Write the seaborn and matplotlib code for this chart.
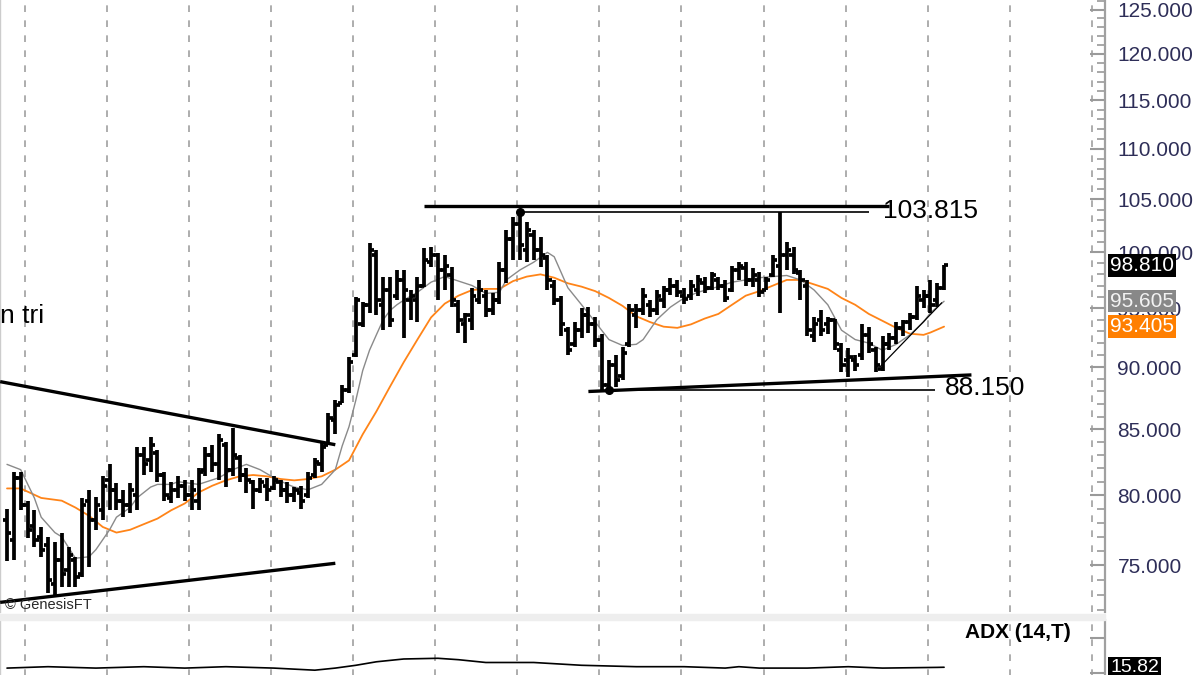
import matplotlib
matplotlib.use("Agg")
import numpy as np
import matplotlib.pyplot as plt
import matplotlib.ticker as mticker
import matplotlib.transforms as mtransforms
from matplotlib.patches import Rectangle
import seaborn as sns

# ── Data ────────────────────────────────────────────────────────────────
opens = [78.2, 76.8, 81.3, 79.3, 77.8, 77.0, 76.4, 73.7, 75.4, 74.7,
         75.4, 74.4, 79.6, 78.2, 78.9, 81.1, 80.4, 79.6, 79.3, 80.0,
         83.0, 82.6, 83.2, 81.5, 79.8, 80.4, 80.7, 80.0, 79.6, 81.9,
         83.0, 82.3, 83.8, 81.9, 82.8, 81.5, 81.0, 80.4, 80.7, 80.5,
         81.0, 80.4, 80.0, 80.2, 80.0, 81.5, 82.3, 83.8, 85.7, 87.1,
         88.1, 91.0, 93.6, 95.3, 99.8, 95.3, 96.6, 96.1, 97.5, 95.7,
         95.7, 97.0, 99.1, 99.8, 98.4, 97.9, 95.3, 93.6, 94.0, 95.7,
         96.1, 94.8, 95.7, 98.4, 101.2, 102.6, 100.2, 101.6, 100.2, 99.5,
         97.0, 95.7, 93.1, 91.9, 93.1, 94.4, 93.6, 92.3, 88.5, 90.2,
         89.3, 91.9, 94.4, 94.8, 95.3, 94.8, 95.7, 96.6, 97.0, 96.1,
         96.1, 96.6, 97.2, 96.8, 97.5, 97.0, 96.6, 98.4, 98.6, 97.5,
         97.5, 96.6, 97.9, 98.8, 99.8, 99.8, 98.1, 97.0, 92.6, 94.0,
         93.6, 94.0, 91.4, 90.6, 90.6, 91.0, 92.7, 91.4, 89.8, 91.9,
         92.4, 93.3, 93.8, 94.2, 95.7, 96.1, 95.7, 96.8]
highs = [79.0, 81.7, 81.7, 79.6, 78.9, 77.7, 77.0, 76.6, 77.3, 76.3,
         75.6, 79.8, 80.4, 79.9, 81.4, 82.3, 80.9, 80.4, 80.9, 83.6,
         83.6, 84.4, 83.4, 81.7, 81.0, 81.4, 81.1, 81.1, 82.0, 83.6,
         83.8, 84.6, 84.0, 85.1, 83.0, 82.0, 81.1, 81.3, 81.3, 81.4,
         81.1, 81.0, 80.6, 80.7, 81.7, 82.8, 84.0, 86.3, 87.3, 88.5,
         90.8, 96.0, 95.5, 100.9, 100.2, 97.8, 97.8, 98.4, 98.4, 96.6,
         97.8, 100.4, 100.5, 99.9, 99.8, 98.7, 95.7, 94.6, 96.8, 97.5,
         96.6, 96.3, 99.1, 102.1, 103.3, 103.815, 102.8, 102.1, 101.4, 99.8,
         97.5, 96.1, 93.4, 93.8, 95.0, 95.1, 94.2, 92.8, 90.6, 91.0,
         91.7, 95.4, 95.4, 96.8, 95.7, 96.6, 97.0, 97.7, 97.5, 96.8,
         97.5, 97.9, 97.8, 98.2, 97.8, 97.5, 98.8, 99.1, 99.1, 98.6,
         98.2, 97.8, 99.8, 103.8, 101.0, 100.5, 98.4, 97.5, 94.2, 94.8,
         94.2, 94.1, 92.0, 91.6, 91.0, 93.6, 93.4, 91.7, 92.6, 92.9,
         93.8, 94.0, 94.6, 97.0, 96.6, 97.5, 97.2, 98.81]
lows = [75.3, 75.4, 78.9, 76.9, 76.3, 75.6, 73.1, 73.0, 73.5, 73.5,
        73.5, 74.2, 74.9, 77.5, 78.2, 78.9, 78.9, 78.4, 78.7, 78.9,
        81.5, 81.7, 81.0, 79.6, 79.4, 79.8, 79.6, 78.9, 78.9, 81.4,
        81.7, 81.1, 80.6, 81.4, 81.0, 80.2, 79.0, 80.2, 79.6, 80.4,
        79.9, 79.4, 79.5, 79.0, 79.8, 81.3, 81.7, 83.8, 84.6, 87.1,
        87.9, 90.8, 93.4, 94.6, 94.4, 93.1, 93.4, 95.7, 92.4, 94.0,
        93.8, 96.9, 98.7, 95.7, 96.6, 95.1, 92.9, 92.0, 93.1, 95.4,
        94.2, 94.4, 95.4, 97.2, 99.3, 99.3, 99.1, 99.3, 98.7, 96.6,
        95.3, 92.6, 91.0, 91.7, 92.4, 92.9, 91.7, 88.1, 88.15, 88.4,
        88.9, 91.7, 93.3, 94.4, 94.2, 94.4, 95.0, 96.2, 96.0, 95.4,
        95.7, 96.1, 96.3, 96.6, 96.6, 95.5, 96.4, 97.5, 97.0, 96.9,
        96.0, 96.6, 97.8, 94.6, 98.4, 98.0, 95.7, 92.6, 92.1, 92.6,
        92.8, 91.4, 89.6, 89.2, 89.7, 90.6, 91.2, 89.6, 89.7, 91.4,
        91.9, 92.6, 93.1, 94.0, 95.0, 94.6, 95.1, 96.6]
closes = [77.3, 81.3, 79.3, 77.5, 76.8, 76.1, 74.0, 75.4, 74.4, 75.7,
          74.2, 79.3, 78.2, 79.3, 80.7, 80.4, 79.6, 79.3, 80.4, 83.0,
          82.3, 83.8, 81.5, 80.0, 80.4, 80.7, 80.0, 80.4, 81.7, 83.0,
          82.3, 84.2, 81.9, 83.0, 81.5, 81.1, 80.4, 81.0, 80.4, 81.1,
          80.4, 80.0, 80.4, 79.6, 81.3, 82.5, 83.6, 85.9, 86.9, 88.1,
          90.4, 95.7, 95.3, 100.2, 95.7, 96.6, 94.0, 97.5, 96.6, 96.1,
          97.0, 99.3, 99.8, 98.4, 98.8, 95.7, 94.0, 94.4, 96.1, 96.6,
          94.8, 95.7, 98.4, 101.2, 102.6, 100.7, 102.1, 100.2, 99.8, 97.5,
          95.7, 93.6, 91.4, 93.1, 94.4, 93.6, 92.3, 88.5, 90.2, 88.9,
          91.2, 94.8, 94.8, 96.1, 94.8, 96.1, 96.6, 97.0, 96.4, 95.8,
          97.0, 97.5, 96.8, 97.9, 97.0, 95.9, 98.4, 98.8, 97.5, 97.9,
          96.4, 97.5, 99.3, 99.8, 100.2, 98.4, 97.5, 93.1, 93.6, 93.1,
          94.0, 91.9, 90.2, 90.8, 90.2, 92.7, 91.9, 90.2, 91.9, 92.4,
          93.3, 93.8, 94.2, 96.1, 96.1, 95.3, 96.8, 98.81]

fast_ma_bars = [0, 2, 4, 5, 7, 8, 10, 12, 13, 15, 16, 18, 19, 21, 22, 24, 25, 28,
                31, 33, 35, 37, 39, 41, 42, 44, 46, 48, 49, 50, 51, 52, 53, 54,
                55, 56, 57, 58, 60, 62, 64, 66, 68, 70, 72, 73, 75, 77, 79, 80,
                82, 84, 86, 88, 90, 92, 93, 95, 97, 99, 101, 104, 106, 108, 110,
                112, 114, 116, 118, 120, 122, 124, 126, 128, 130, 132, 134, 135, 137]
fast_ma = [82.3, 81.9, 79.8, 78.4, 77.3, 77.0, 75.5, 75.6, 76.1, 77.5,
           78.4, 79.1, 79.8, 80.6, 80.8, 80.8, 81.0, 80.8, 81.3, 81.9,
           82.3, 81.9, 81.3, 80.8, 80.6, 80.4, 80.8, 81.9, 83.7, 85.2,
           87.3, 89.7, 91.4, 92.7, 94.0, 94.8, 95.3, 95.7, 96.4, 97.3,
           97.8, 97.4, 97.0, 96.3, 96.4, 97.5, 98.4, 99.1, 100.0, 99.6,
           96.8, 95.3, 93.8, 92.3, 91.8, 91.9, 92.3, 94.0, 95.1, 95.9,
           96.4, 96.9, 97.3, 97.5, 97.7, 97.8, 97.9, 97.5, 96.6, 95.3,
           93.1, 92.3, 92.0, 91.4, 91.9, 92.7, 93.8, 94.6, 95.605]

slow_ma_bars = [0, 2, 5, 8, 10, 12, 14, 16, 18, 20, 22, 24, 26, 28, 30, 32, 34,
                36, 38, 40, 42, 44, 46, 48, 50, 52, 54, 56, 58, 60, 62, 64, 66,
                68, 70, 72, 74, 76, 78, 80, 82, 84, 86, 88, 90, 92, 94, 96, 98,
                100, 102, 104, 106, 108, 110, 112, 114, 116, 118, 120, 122, 124,
                126, 128, 130, 132, 134, 135, 137]
slow_ma = [80.5, 80.5, 79.8, 79.6, 79.1, 78.5, 77.7, 77.3, 77.5, 77.9,
           78.3, 78.9, 79.4, 80.2, 80.7, 81.1, 81.4, 81.5, 81.4, 81.2,
           81.1, 81.2, 81.4, 81.9, 82.6, 84.6, 86.4, 88.4, 90.4, 92.3,
           94.2, 95.4, 96.1, 96.6, 96.7, 96.7, 97.4, 97.8, 98.0, 97.7,
           97.2, 96.9, 96.5, 95.9, 95.2, 94.3, 93.8, 93.4, 93.3, 93.6,
           94.1, 94.5, 95.3, 96.1, 96.5, 97.0, 97.5, 97.5, 97.1, 96.7,
           95.9, 95.3, 94.5, 93.9, 93.3, 92.8, 92.7, 92.9, 93.405]

adx_bars = [0, 6, 13, 20, 26, 32, 39, 45, 48, 51, 54, 58, 63, 66, 70, 77, 84,
            92, 99, 105, 107, 110, 117, 123, 128, 136, 137]
adx = [15.7, 15.9, 15.7, 15.9, 15.7, 15.9, 15.7, 15.4, 15.7, 16.1, 16.6,
       17.0, 17.1, 16.9, 16.5, 16.5, 16.1, 15.9, 15.9, 15.7, 15.9, 15.7,
       15.7, 15.9, 15.7, 15.8, 15.82]

# hand-drawn study lines: (bar start, bar end), (price start, price end)
triangle_top = ([-1.0, 48.0], [88.8, 83.8])
triangle_bottom = ([-1.0, 48.0], [72.5, 75.15])
resistance = ([61.0, 129.0], [104.4, 104.4])
peak_line = ([75.0, 126.0], [103.815, 103.815])
support = ([85.0, 141.0], [88.0, 89.35])
low_line = ([88.0, 135.7], [88.15, 88.15])
rise_line = ([127.6, 136.7], [90.0, 95.5])
pivots_bar = [75, 88]
pivots_price = [103.815, 88.15]

price_ticks = [75, 80, 85, 90, 95, 100, 105, 110, 115, 120, 125]
last_price, fast_last, slow_last, adx_last = 98.81, 95.605, 93.405, 15.82

# ── Layout ───────────────────────────────────────────────────────────────
W, H = 1200, 675
AXIS_X = 1105
TEXT_BLUE = "#2e2e58"
GRID_GRAY = "#a0a0a0"


def px_rect(x0, y0, x1, y1):
    return [x0 / W, 1 - y1 / H, (x1 - x0) / W, (y1 - y0) / H]


sns.set_theme(style="white")
plt.rcParams["font.family"] = ["Liberation Sans", "DejaVu Sans"]

fig = plt.figure(figsize=(12, 6.75), dpi=100)
fig.patch.set_facecolor("white")
ax = fig.add_axes(px_rect(0, 0, AXIS_X, 612))
ax2 = fig.add_axes(px_rect(0, 620, AXIS_X, 690))
fig.patches.append(Rectangle((0, 1 - 620 / H), AXIS_X / W, 6 / H,
                             transform=fig.transFigure, color="#eeeeee", zorder=0))

xlim = (-7 / 6.84, (AXIS_X - 7) / 6.84)
grid_x = 2.6 + 12 * np.arange(14)

for a in (ax, ax2):
    a.set_xlim(*xlim)
    a.set_xticks([])
    for g in grid_x:
        a.axvline(g, color=GRID_GRAY, lw=1.2, dashes=(4, 5), zorder=0)
    for s in ("top", "bottom"):
        a.spines[s].set_visible(False)
    a.spines["left"].set_color("#cccccc")
    a.spines["left"].set_linewidth(1.0)
    a.spines["right"].set_color("#a0a0a0")
    a.spines["right"].set_linewidth(1.6)

# ── Price pane ──────────────────────────────────────────────────────────
x = np.arange(len(closes))
ax.vlines(x, lows, highs, color="black", lw=2.7, zorder=4)
ax.hlines(opens, x - 0.62, x, color="black", lw=2.7, zorder=4)
ax.hlines(closes, x, x + 0.62, color="black", lw=2.7, zorder=4)

sns.lineplot(x=slow_ma_bars, y=slow_ma, ax=ax, color="#ff8418", lw=1.3, zorder=3)
sns.lineplot(x=fast_ma_bars, y=fast_ma, ax=ax, color="#8a8a8a", lw=1.0, zorder=3)

for (bx, py), lw in [(triangle_top, 2.4), (triangle_bottom, 2.4), (resistance, 2.4),
                     (support, 2.4), (peak_line, 1.2), (low_line, 1.2), (rise_line, 0.9)]:
    ax.plot(bx, py, color="black", lw=lw, solid_capstyle="butt", zorder=5)
ax.plot(pivots_bar, pivots_price, "o", color="black", ms=5.5, zorder=6)

ax.set_yscale("log")
ax.set_ylim(71.86, 126.1)
ax.yaxis.set_major_locator(mticker.FixedLocator(price_ticks))
ax.yaxis.set_minor_locator(mticker.FixedLocator(np.arange(72, 127)))
ax.yaxis.set_major_formatter(mticker.FuncFormatter(lambda v, _: f"{v:.3f}"))
ax.yaxis.set_minor_formatter(mticker.NullFormatter())
ax.yaxis.tick_right()
ax.tick_params(axis="y", which="major", direction="in", length=11, width=1.5,
               color="#9a9a9a", labelsize=15, labelcolor=TEXT_BLUE, pad=9,
               right=True, left=False, labelright=True, labelleft=False)
ax.tick_params(axis="y", which="minor", direction="in", length=6, width=1.2,
               color="#9a9a9a", right=True, left=False)
ax.set_xlabel("")
ax.set_ylabel("")

ax.text(128.1, 103.9, "103.815", fontsize=19, color="black", va="center", ha="left", zorder=7)
ax.text(137.1, 88.25, "88.150", fontsize=19, color="black", va="center", ha="left", zorder=7)
ax.text(-1.0, 94.3, "n tri", fontsize=19, color="black", va="center", ha="left")
ax.text(5 / AXIS_X, 7 / 612, "© GenesisFT", transform=ax.transAxes, fontsize=10.5,
        color="#2a2a2a", va="center", ha="left", zorder=8)

edge = mtransforms.blended_transform_factory(ax.transAxes, ax.transData)
for val, fc, tc in [(last_price, "black", "white"), (fast_last, "#888888", "#f2f2f2"),
                    (slow_last, "#ff7f00", "white")]:
    ax.text(1110 / AXIS_X, val, f"{val:.3f}", transform=edge, fontsize=15, color=tc,
            va="center", ha="left", clip_on=False, zorder=10,
            bbox=dict(boxstyle="square,pad=0.08", fc=fc, ec="none"))

# ── ADX pane ────────────────────────────────────────────────────────────
sns.lineplot(x=adx_bars, y=adx, ax=ax2, color="black", lw=1.2, zorder=3)
ax2.set_ylim(12.57, 22.57)
ax2.set_yticks([15, 20])
ax2.yaxis.tick_right()
ax2.tick_params(axis="y", direction="in", length=11, width=1.5, color="#9a9a9a",
                right=True, left=False, labelright=False, labelleft=False)
ax2.set_xlabel("")
ax2.set_ylabel("")
ax2.text(965 / AXIS_X, (690 - 632) / 70, "ADX (14,T)", transform=ax2.transAxes,
         fontsize=15, fontweight="bold", color="black", va="center", ha="left")
edge2 = mtransforms.blended_transform_factory(ax2.transAxes, ax2.transData)
ax2.text(1110 / AXIS_X, adx_last, f"{adx_last:.2f}", transform=edge2, fontsize=14,
         color="white", va="center", ha="left", clip_on=False, zorder=10,
         bbox=dict(boxstyle="square,pad=0.1", fc="black", ec="none"))

fig.savefig("out.png", dpi=100)
